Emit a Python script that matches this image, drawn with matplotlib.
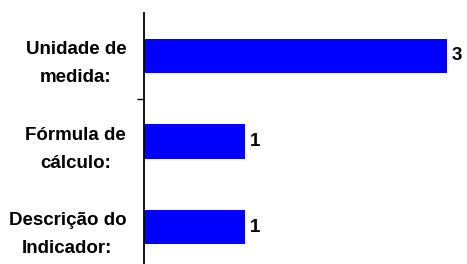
import matplotlib
matplotlib.use("Agg")
import matplotlib.pyplot as plt
from matplotlib.ticker import FixedLocator

categories = ["Unidade de\nmedida:", "Fórmula de\ncálculo:", "Descrição do\nIndicador:"]
values = [3, 1, 1]

W, H = 467, 264
fig = plt.figure(figsize=(W / 100, H / 100), dpi=100)
left = 143.5 / W
top = 1 - 13 / H
bottom = (H - 270) / H
ax = fig.add_axes([left, bottom, 1 - left, top - bottom])

font = dict(family="Liberation Sans", weight="bold", size=13.5)

ypos = list(range(len(categories)))
ax.barh(ypos, values, height=0.4, color="#0000FF")
ax.set_ylim(2.5, -0.5)
ax.set_xlim(0, 3.2)

for y, v in zip(ypos, values):
    ax.text(v + 0.05, y, str(v), va="center", ha="left", color="black", **font)

ax.set_yticks(ypos)
ax.set_yticklabels(categories, ha="right", multialignment="center", linespacing=1.85, **font)
ax.yaxis.set_minor_locator(FixedLocator([0.5]))
ax.tick_params(axis="y", which="major", length=0, pad=12.5)
ax.tick_params(axis="y", which="minor", length=5, width=1.0, direction="out", color="black")
ax.set_xticks([])
for s in ["top", "right", "bottom"]:
    ax.spines[s].set_visible(False)
ax.spines["left"].set_linewidth(1.3)
ax.spines["left"].set_color("black")

fig.savefig("out.png", dpi=100)
